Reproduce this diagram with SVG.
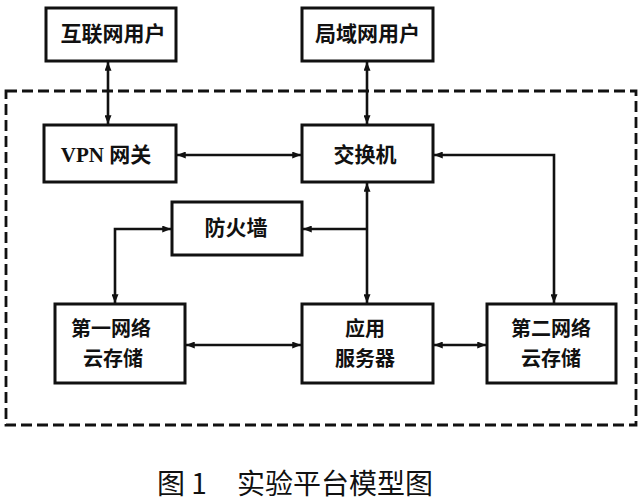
<svg xmlns="http://www.w3.org/2000/svg" width="644" height="503" viewBox="0 0 644 503">
<style>
.box{fill:#fff;stroke:#111;stroke-width:3}
.lbl{font-family:"Liberation Serif","Noto Sans CJK SC",serif;font-size:21px;font-weight:700;fill:#111;text-anchor:middle}
.two{font-size:20px}
.cn{font-family:"Noto Sans CJK SC","Liberation Sans",sans-serif}
.ln{fill:none;stroke:#111;stroke-width:2.6;marker-start:url(#ah);marker-end:url(#ah)}
.one{marker-start:none}
.frame{fill:none;stroke:#111;stroke-width:2.8;stroke-dasharray:11 5}
.cap{font-family:"Noto Sans CJK SC","Liberation Sans",sans-serif;font-size:28px;fill:#111}
</style>
<defs>
<marker id="ah" viewBox="0 0 10 8" refX="10" refY="4" markerWidth="9" markerHeight="7" markerUnits="userSpaceOnUse" orient="auto-start-reverse">
<path d="M0,0 L10,4 L0,8 Z" fill="#111"/>
</marker>
</defs>
<rect class="frame" x="6" y="91" width="630" height="334"/>
<g id="connectors">
<line class="ln" x1="108" y1="62" x2="108" y2="124"/>
<line class="ln" x1="367" y1="62" x2="367" y2="124"/>
<line class="ln" x1="177" y1="155" x2="301" y2="155"/>
<line class="ln" x1="367" y1="183" x2="367" y2="303"/>
<polyline class="ln one" points="367,229 303,229"/>
<polyline class="ln" points="171,229 115,229 115,303"/>
<line class="ln" x1="186" y1="345" x2="301" y2="345"/>
<line class="ln" x1="434" y1="345" x2="486" y2="345"/>
<polyline class="ln" points="434,155 554,155 554,303"/>
</g>
<g id="internet-user">
<rect class="box" x="46" y="8" width="130" height="53"/>
<text class="lbl cn" x="113" y="41">互联网用户</text>
</g>
<g id="lan-user">
<rect class="box" x="302" y="8" width="131" height="53"/>
<text class="lbl cn" x="367.5" y="41">局域网用户</text>
</g>
<g id="vpn-gateway">
<rect class="box" x="44" y="125" width="132" height="57"/>
<text class="lbl" x="106" y="162">VPN <tspan class="cn">网关</tspan></text>
</g>
<g id="switch">
<rect class="box" x="302" y="125" width="131" height="57"/>
<text class="lbl cn" x="365" y="162">交换机</text>
</g>
<g id="firewall">
<rect class="box" x="172" y="202" width="130" height="53"/>
<text class="lbl cn" x="236" y="235">防火墙</text>
</g>
<g id="storage-1">
<rect class="box" x="55" y="304" width="130" height="79"/>
<text class="lbl cn two" x="111" y="336">第一网络</text>
<text class="lbl cn two" x="113" y="366">云存储</text>
</g>
<g id="app-server">
<rect class="box" x="302" y="304" width="131" height="79"/>
<text class="lbl cn two" x="365" y="336">应用</text>
<text class="lbl cn two" x="365" y="366">服务器</text>
</g>
<g id="storage-2">
<rect class="box" x="487" y="304" width="129" height="79"/>
<text class="lbl cn two" x="551" y="336">第二网络</text>
<text class="lbl cn two" x="551" y="366">云存储</text>
</g>
<text class="cap" x="157" y="494">图 1</text>
<text class="cap" x="237" y="494">实验平台模型图</text>
</svg>
